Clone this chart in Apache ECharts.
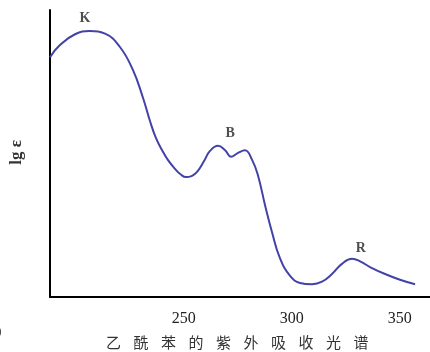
<!DOCTYPE html>
<html>
<head>
<meta charset="utf-8">
<script src="https://cdn.jsdelivr.net/npm/echarts@6/dist/echarts.min.js"></script>
<style>
  html, body { margin: 0; padding: 0; background: #fff; }
  #chart { width: 430px; height: 352px; }
</style>
</head>
<body>
<div id="chart"></div>
<script>
// Wavelength (nm) and lg ε of the absorption curve
const wavelength = [188.0, 192.6, 199.6, 206.5, 213.5, 220.4, 226.4, 231.1, 234.3, 237.1,
  239.8, 242.6, 245.9, 248.6, 251.0, 253.8, 256.1, 259.3, 262.1, 265.8, 269.1,
  271.8, 275.1, 278.3, 281.6, 284.3, 287.6, 290.8, 294.5, 299.2, 303.8,
  309.4, 314.0, 318.6, 323.2, 327.9, 331.6, 336.2, 343.2, 350.1, 357.1];
const lgEpsilon = [3.76, 3.95, 4.12, 4.17, 4.13, 3.92, 3.56, 3.12, 2.76, 2.49,
  2.31, 2.15, 2.01, 1.92, 1.88, 1.90, 1.96, 2.13, 2.29, 2.37, 2.30,
  2.20, 2.26, 2.30, 2.15, 1.91, 1.44, 1.02, 0.61, 0.33, 0.22,
  0.20, 0.24, 0.36, 0.52, 0.60, 0.56, 0.47, 0.36, 0.27, 0.20];

// Band names and where they are written
const bandNames = ['K', 'B', 'R'];
const bandX = [204.2, 271.4, 332.0];
const bandY = [4.37, 2.56, 0.76];

const xTicks = [250, 300, 350];
const chartTitle = ['乙', '酰', '苯', '的', '紫', '外', '吸', '收', '光', '谱'].join('\u2002\u2004');
const yName = 'lg ε';

const curve = wavelength.map((w, i) => [w, lgEpsilon[i]]);
const bands = bandNames.map((n, i) => ({ value: [bandX[i], bandY[i]], name: n }));

const chart = echarts.init(document.getElementById('chart'));
chart.setOption({
  animation: false,
  backgroundColor: '#ffffff',
  grid: { left: 50, right: 0, top: 10, bottom: 55 },
  title: {
    text: chartTitle,
    left: 101,
    top: 330,
    textStyle: {
      fontFamily: '"Noto Sans CJK SC", serif',
      fontSize: 15,
      fontWeight: 'normal',
      color: '#333'
    }
  },
  graphic: [
    {
      type: 'text',
      left: 8,
      top: 140,
      rotation: Math.PI / 2,
      style: {
        text: yName,
        font: 'bold 17px "Liberation Serif", serif',
        fill: '#333'
      }
    },
    {
      type: 'text',
      left: -6,
      top: 326,
      style: {
        text: '0',
        font: '15px "Liberation Serif", serif',
        fill: '#333'
      }
    }
  ],
  xAxis: {
    type: 'value',
    min: 188,
    max: 364,
    axisLine: { show: true, lineStyle: { color: '#000', width: 2 } },
    axisTick: { show: false },
    splitLine: { show: false },
    axisLabel: {
      customValues: xTicks,
      margin: 14,
      fontFamily: '"Liberation Serif", serif',
      fontSize: 16,
      color: '#222'
    }
  },
  yAxis: {
    type: 'value',
    min: 0,
    max: 4.5,
    axisLine: { show: true, lineStyle: { color: '#000', width: 2 } },
    axisTick: { show: false },
    axisLabel: { show: false },
    splitLine: { show: false }
  },
  series: [
    {
      type: 'line',
      data: curve,
      smooth: 0.45,
      showSymbol: false,
      lineStyle: { color: '#4242a8', width: 2 }
    },
    {
      type: 'scatter',
      data: bands,
      symbolSize: 0,
      label: {
        show: true,
        position: 'inside',
        formatter: '{b}',
        fontFamily: '"Liberation Serif", serif',
        fontWeight: 'bold',
        fontSize: 14,
        color: '#222'
      }
    }
  ]
});
</script>
</body>
</html>
